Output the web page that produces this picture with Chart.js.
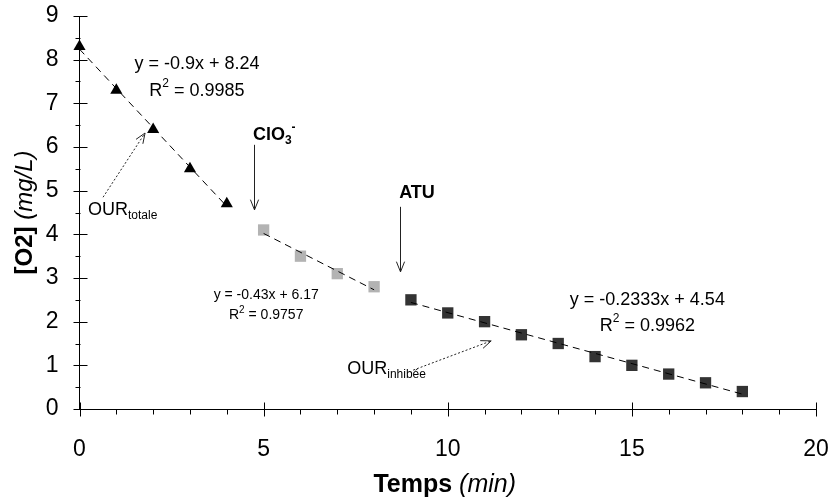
<!DOCTYPE html>
<html><head><meta charset="utf-8">
<script src="https://cdn.jsdelivr.net/npm/chart.js@4.4.0/dist/chart.umd.min.js"></script>
<style>html,body{margin:0;padding:0;background:#fff;}</style>
</head><body>
<canvas id="c" width="833" height="499"></canvas>
<script>
// ---- data ----
const timeTotale = [0, 1, 2, 3, 4];
const o2Totale = [8.3, 7.3, 6.4, 5.5, 4.7];
const timeChlorate = [5, 6, 7, 8];
const o2Chlorate = [4.1, 3.5, 3.1, 2.8];
const timeInhibee = [9, 10, 11, 12, 13, 14, 15, 16, 17, 18];
const o2Inhibee = [2.5, 2.2, 2.0, 1.7, 1.5, 1.2, 1.0, 0.8, 0.6, 0.4];
// trend lines (end points of the displayed fits)
const trendTotaleX = [0, 4];
const trendTotaleY = [8.24, 4.64];
const trendChlorateX = [5, 8];
const trendChlorateY = [4.02, 2.73];
const trendInhibeeX = [9, 18];
const trendInhibeeY = [2.44, 0.34];
// axes
const xMin = 0, xMax = 20, xMajorStep = 5, xMinorStep = 1;
const yMin = 0, yMax = 9, yMajorStep = 1, yMinorStep = 0.5;
const xTitleBold = 'Temps ';
const xTitleItalic = '(min)';
const yTitleBold = '[O2] ';
const yTitleItalic = '(mg/L)';
// labels of fits
const eqTotale = 'y = -0.9x + 8.24';
const r2Totale = ' = 0.9985';
const eqChlorate = 'y = -0.43x + 6.17';
const r2Chlorate = ' = 0.9757';
const eqInhibee = 'y = -0.2333x + 4.54';
const r2Inhibee = ' = 0.9962';

const FONT = "'Liberation Sans', Arial, sans-serif";

function pts(xs, ys) { return xs.map((x, i) => ({x: x, y: ys[i]})); }

// annotation layout (data coordinates)
const annotations = [
  {x: 3.19, y: 7.90, align: 'center', parts: [[eqTotale, '18px', 0]]},
  {x: 3.19, y: 7.28, align: 'center', parts: [['R', '18px', 0], ['2', '12px', -7], [r2Totale, '18px', 0]]},
  {x: 5.07, y: 2.61, align: 'center', parts: [[eqChlorate, '14px', 0]]},
  {x: 5.07, y: 2.15, align: 'center', parts: [['R', '14px', 0], ['2', '10px', -5], [r2Chlorate, '14px', 0]]},
  {x: 15.42, y: 2.50, align: 'center', parts: [[eqInhibee, '18px', 0]]},
  {x: 15.42, y: 1.90, align: 'center', parts: [['R', '18px', 0], ['2', '12px', -7], [r2Inhibee, '18px', 0]]},
  {x: 4.71, y: 6.27, align: 'left', parts: [['ClO', 'bold 18px', 0], ['3', 'bold 12px', 5], ['-', 'bold 12px', -8]]},
  {x: 8.68, y: 4.95, align: 'left', parts: [['ATU', 'bold 18px', 0]]},
  {x: 0.23, y: 4.56, align: 'left', parts: [['OUR', '18px', 0], ['totale', '12px', 6]]},
  {x: 7.27, y: 0.92, align: 'left', parts: [['OUR', '18px', 0], ['inhibée', '12px', 6]]}
];
const arrows = [
  {x1: 4.74, y1: 6.05, x2: 4.74, y2: 4.56, dash: []},
  {x1: 8.71, y1: 4.63, x2: 8.71, y2: 3.14, dash: []},
  {x1: 0.64, y1: 4.85, x2: 1.78, y2: 6.32, dash: [2, 2]},
  {x1: 9.06, y1: 0.89, x2: 11.18, y2: 1.56, dash: [2, 2]}
];

function drawParts(ctx, x, y, parts, align) {
  let widths = parts.map(p => { ctx.font = p[1] + ' ' + FONT; return ctx.measureText(p[0]).width; });
  let total = widths.reduce((a, b) => a + b, 0);
  let cx = align === 'center' ? x - total / 2 : x;
  ctx.textAlign = 'left';
  ctx.textBaseline = 'middle';
  parts.forEach((p, i) => {
    ctx.font = p[1] + ' ' + FONT;
    ctx.fillText(p[0], cx, y + p[2]);
    cx += widths[i];
  });
}

function arrowHead(ctx, x1, y1, x2, y2) {
  const ang = Math.atan2(y2 - y1, x2 - x1);
  const len = 11, spread = 0.38;
  ctx.setLineDash([]);
  ctx.beginPath();
  ctx.moveTo(x2 - len * Math.cos(ang - spread), y2 - len * Math.sin(ang - spread));
  ctx.lineTo(x2, y2);
  ctx.lineTo(x2 - len * Math.cos(ang + spread), y2 - len * Math.sin(ang + spread));
  ctx.stroke();
}

const decorPlugin = {
  id: 'decor',
  afterDraw(chart) {
    const ctx = chart.ctx;
    const xs = chart.scales.x, ys = chart.scales.y;
    const area = chart.chartArea;
    ctx.save();
    ctx.strokeStyle = '#000';
    ctx.lineWidth = 1;
    // x tick marks
    const ax = Math.round(area.bottom) + 0.5;
    for (let v = xMin; v <= xMax + 1e-9; v += xMinorStep) {
      const px = Math.round(xs.getPixelForValue(v)) + 0.5;
      const major = Math.abs(v / xMajorStep - Math.round(v / xMajorStep)) < 1e-9;
      ctx.beginPath();
      if (major) { ctx.moveTo(px, ax - 7); ctx.lineTo(px, ax + 7); }
      else { ctx.moveTo(px, ax); ctx.lineTo(px, ax + 5); }
      ctx.stroke();
    }
    // y tick marks
    const ay = Math.round(area.left) + 0.5;
    for (let v = yMin; v <= yMax + 1e-9; v += yMinorStep) {
      const py = Math.round(ys.getPixelForValue(v)) + 0.5;
      const major = Math.abs(v / yMajorStep - Math.round(v / yMajorStep)) < 1e-9;
      ctx.beginPath();
      if (major) { ctx.moveTo(ay - 7, py); ctx.lineTo(ay + 7, py); }
      else { ctx.moveTo(ay - 5, py); ctx.lineTo(ay, py); }
      ctx.stroke();
    }
    // annotations
    ctx.fillStyle = '#000';
    annotations.forEach(a => drawParts(ctx, xs.getPixelForValue(a.x), ys.getPixelForValue(a.y), a.parts, a.align));
    ctx.strokeStyle = '#222';
    arrows.forEach(a => {
      const x1 = xs.getPixelForValue(a.x1), y1 = ys.getPixelForValue(a.y1);
      const x2 = xs.getPixelForValue(a.x2), y2 = ys.getPixelForValue(a.y2);
      ctx.setLineDash(a.dash);
      ctx.beginPath();
      if (a.dash.length === 0) {
        const rx = Math.round(x1) + 0.5;
        ctx.moveTo(rx, y1); ctx.lineTo(rx, y2); ctx.stroke();
        arrowHead(ctx, rx, y1, rx, y2);
      } else {
        ctx.moveTo(x1, y1); ctx.lineTo(x2, y2); ctx.stroke();
        arrowHead(ctx, x1, y1, x2, y2);
      }
    });
    ctx.setLineDash([]);
    // axis titles
    ctx.fillStyle = '#000';
    ctx.textBaseline = 'middle';
    ctx.textAlign = 'left';
    const cx = (area.left + area.right) / 2 - 3;
    ctx.font = 'bold 25px ' + FONT;
    const wb = ctx.measureText(xTitleBold).width;
    ctx.font = 'italic 25px ' + FONT;
    const wi = ctx.measureText(xTitleItalic).width;
    let sx = cx - (wb + wi) / 2;
    const ty = area.bottom + 76;
    ctx.font = 'bold 25px ' + FONT; ctx.fillText(xTitleBold, sx, ty);
    ctx.font = 'italic 25px ' + FONT; ctx.fillText(xTitleItalic, sx + wb, ty);
    // y title
    ctx.save();
    ctx.translate(25, (area.top + area.bottom) / 2);
    ctx.rotate(-Math.PI / 2);
    ctx.font = 'bold 24px ' + FONT;
    const yb = ctx.measureText(yTitleBold).width;
    ctx.font = 'italic 24px ' + FONT;
    const yi = ctx.measureText(yTitleItalic).width;
    let s = -(yb + yi) / 2;
    ctx.font = 'bold 24px ' + FONT; ctx.fillText(yTitleBold, s, 0);
    ctx.font = 'italic 24px ' + FONT; ctx.fillText(yTitleItalic, s + yb, 0);
    ctx.restore();
    ctx.restore();
  }
};

const lineStyle = {type: 'line', showLine: true, pointRadius: 0, borderColor: '#000', borderWidth: 1, borderDash: [7, 5], fill: false, clip: false};

new Chart(document.getElementById('c'), {
  type: 'scatter',
  data: {
    datasets: [
      Object.assign({label: 'fit totale', data: pts(trendTotaleX, trendTotaleY)}, lineStyle),
      Object.assign({label: 'fit chlorate', data: pts(trendChlorateX, trendChlorateY)}, lineStyle),
      Object.assign({label: 'fit inhibee', data: pts(trendInhibeeX, trendInhibeeY)}, lineStyle),
      {label: 'OUR totale', data: pts(timeTotale, o2Totale), pointStyle: 'triangle', pointRadius: 7, backgroundColor: '#000', borderWidth: 0, clip: false},
      {label: 'ClO3', data: pts(timeChlorate, o2Chlorate), pointStyle: 'rect', pointRadius: 8, backgroundColor: '#b3b3b3', borderWidth: 0, clip: false},
      {label: 'OUR inhibee', data: pts(timeInhibee, o2Inhibee), pointStyle: 'rect', pointRadius: 8, backgroundColor: '#333333', borderWidth: 0, clip: false}
    ]
  },
  options: {
    responsive: false,
    animation: false,
    devicePixelRatio: 1,
    layout: {padding: {top: 16, right: 17, left: 0, bottom: 0}},
    plugins: {legend: {display: false}, tooltip: {enabled: false}},
    scales: {
      x: {
        type: 'linear', min: xMin, max: xMax,
        ticks: {stepSize: xMajorStep, color: '#000', font: {family: FONT, size: 23}, padding: 19},
        grid: {display: false},
        border: {display: true, color: '#000', width: 1},
        afterFit(s) { s.height = 90; s.paddingLeft = 0; s.paddingRight = 0; }
      },
      y: {
        type: 'linear', min: yMin, max: yMax,
        ticks: {stepSize: yMajorStep, color: '#000', font: {family: FONT, size: 23}, padding: 13},
        grid: {display: false},
        border: {display: true, color: '#000', width: 1},
        afterFit(s) { s.width = 79.5; s.paddingTop = 0; s.paddingBottom = 0; }
      }
    }
  },
  plugins: [decorPlugin]
});
</script>
</body></html>
